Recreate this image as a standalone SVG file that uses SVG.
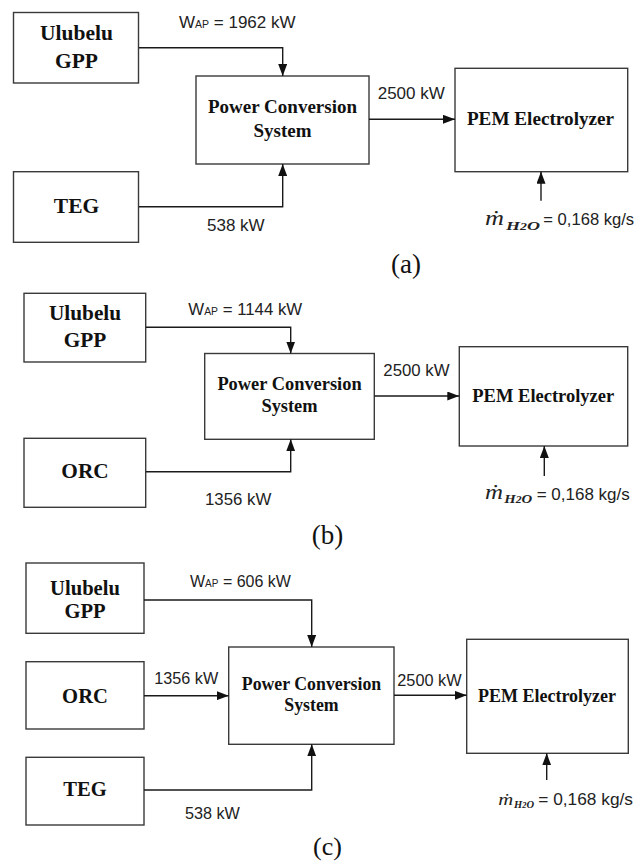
<svg xmlns="http://www.w3.org/2000/svg" width="635" height="863" viewBox="0 0 635 863">
<defs>
<marker id="arr" viewBox="0 0 12 9" refX="12" refY="4.5" markerWidth="12" markerHeight="9" markerUnits="userSpaceOnUse" orient="auto">
<path d="M0,0 L12,4.5 L0,9 z" fill="#111"/>
</marker>
<style>
.box{fill:#fff;stroke:#3a3a3a;stroke-width:1.4}
.conn{fill:none;stroke:#1a1a1a;stroke-width:1.4;marker-end:url(#arr)}
.node{font-family:"Liberation Serif","Times New Roman",serif;font-weight:bold;fill:#111;text-anchor:middle}
.lbl{font-family:"Liberation Sans",Arial,sans-serif;fill:#222}
.mi{font-family:"Liberation Serif","Times New Roman",serif;font-style:italic;fill:#222}
.sub{font-family:"Liberation Serif","Times New Roman",serif;font-style:italic;font-weight:bold;fill:#222}
.cap{font-family:"Liberation Serif","Times New Roman",serif;fill:#111;text-anchor:middle}
</style>
</defs>
<rect width="635" height="863" fill="#fff"/>

<!-- ===== Panel (a) ===== -->
<g id="a-ulubelu">
<rect class="box" x="13.5" y="12.5" width="125" height="70.5"/>
<text class="node" x="76.5" y="40" font-size="21.5">Ulubelu</text>
<text class="node" x="76.5" y="67.7" font-size="21.5">GPP</text>
</g>
<g id="a-teg">
<rect class="box" x="13.5" y="171.7" width="125" height="70.6"/>
<text class="node" x="76.5" y="213.3" font-size="21.5">TEG</text>
</g>
<g id="a-pcs">
<rect class="box" x="196" y="76" width="173" height="88"/>
<text class="node" x="282.5" y="113" font-size="19">Power Conversion</text>
<text class="node" x="282.5" y="137" font-size="19">System</text>
</g>
<g id="a-pem">
<rect class="box" x="455" y="68.3" width="172.7" height="103.4"/>
<text class="node" x="540.5" y="125" font-size="19.2">PEM Electrolyzer</text>
</g>
<g id="a-connectors">
<path class="conn" d="M139,47.7 H282.7 V76"/>
<path class="conn" d="M139,206.7 H282.7 V164"/>
<path class="conn" d="M369,119.3 H455"/>
<path class="conn" d="M541,200.7 V171.7"/>
</g>
<g id="a-labels">
<text class="lbl" x="179" y="28.3" font-size="17">W<tspan font-size="10.5">AP</tspan> = 1962 kW</text>
<text class="lbl" x="377.7" y="99.3" font-size="17">2500 kW</text>
<text class="lbl" x="207" y="230.7" font-size="17">538 kW</text>
<text class="mi" x="485" y="225" font-size="22" textLength="19" lengthAdjust="spacingAndGlyphs">ṁ</text>
<text class="sub" x="506" y="229.5" font-size="13" textLength="34" lengthAdjust="spacingAndGlyphs">H<tspan font-size="10">2</tspan>O</text>
<text class="lbl" x="543.3" y="225.3" font-size="16.6">= 0,168 kg/s</text>
<text class="cap" x="406" y="273" font-size="27">(a)</text>
</g>

<!-- ===== Panel (b) ===== -->
<g id="b-ulubelu">
<rect class="box" x="24" y="293.3" width="121.7" height="68.7"/>
<text class="node" x="85" y="320" font-size="21.3">Ulubelu</text>
<text class="node" x="85" y="346.7" font-size="21.3">GPP</text>
</g>
<g id="b-orc">
<rect class="box" x="24" y="438.3" width="121.7" height="69"/>
<text class="node" x="85" y="478.3" font-size="21.3">ORC</text>
</g>
<g id="b-pcs">
<rect class="box" x="204.7" y="353.5" width="169.6" height="85.8"/>
<text class="node" x="289.5" y="390" font-size="18.4">Power Conversion</text>
<text class="node" x="289.5" y="411.7" font-size="18.4">System</text>
</g>
<g id="b-pem">
<rect class="box" x="459.3" y="346.7" width="168.4" height="99.3"/>
<text class="node" x="543.3" y="401.7" font-size="18.5">PEM Electrolyzer</text>
</g>
<g id="b-connectors">
<path class="conn" d="M146,327.3 H290.7 V353.5"/>
<path class="conn" d="M146,471.7 H290.7 V439.3"/>
<path class="conn" d="M374.3,396 H459.3"/>
<path class="conn" d="M544.3,476 V446"/>
</g>
<g id="b-labels">
<text class="lbl" x="188.3" y="315" font-size="16.8">W<tspan font-size="10.4">AP</tspan> = 1144 kW</text>
<text class="lbl" x="383.3" y="376" font-size="16.8">2500 kW</text>
<text class="lbl" x="205" y="505" font-size="16.8">1356 kW</text>
<text class="mi" x="485" y="498.5" font-size="21" textLength="18" lengthAdjust="spacingAndGlyphs">ṁ</text>
<text class="sub" x="504.3" y="503.3" font-size="12" textLength="28" lengthAdjust="spacingAndGlyphs">H<tspan font-size="9.5">2</tspan>O</text>
<text class="lbl" x="536.7" y="499.5" font-size="17">= 0,168 kg/s</text>
<text class="cap" x="327.5" y="544" font-size="27">(b)</text>
</g>

<!-- ===== Panel (c) ===== -->
<g id="c-ulubelu">
<rect class="box" x="26" y="563" width="118" height="70.3"/>
<text class="node" x="85" y="595" font-size="20.6">Ulubelu</text>
<text class="node" x="85" y="618.3" font-size="20.6">GPP</text>
</g>
<g id="c-orc">
<rect class="box" x="26" y="661.7" width="118" height="67.3"/>
<text class="node" x="85" y="702.7" font-size="20.6">ORC</text>
</g>
<g id="c-teg">
<rect class="box" x="26" y="757.3" width="118" height="67.7"/>
<text class="node" x="85" y="796" font-size="20.6">TEG</text>
</g>
<g id="c-pcs">
<rect class="box" x="228.7" y="647" width="165.3" height="97.3"/>
<text class="node" x="311.5" y="690" font-size="17.8">Power Conversion</text>
<text class="node" x="311.5" y="711" font-size="17.8">System</text>
</g>
<g id="c-pem">
<rect class="box" x="466.7" y="639.3" width="161.6" height="114"/>
<text class="node" x="547" y="701.7" font-size="18">PEM Electrolyzer</text>
</g>
<g id="c-connectors">
<path class="conn" d="M144,600 H311.7 V647"/>
<path class="conn" d="M144,695.7 H228.7"/>
<path class="conn" d="M144,790 H311.7 V744.3"/>
<path class="conn" d="M394,695.3 H466.7"/>
<path class="conn" d="M546.7,780 V753.3"/>
</g>
<g id="c-labels">
<text class="lbl" x="190" y="586.7" font-size="16">W<tspan font-size="10">AP</tspan> = 606 kW</text>
<text class="lbl" x="154.3" y="684" font-size="16.2">1356 kW</text>
<text class="lbl" x="397.3" y="686" font-size="16.3">2500 kW</text>
<text class="lbl" x="185" y="819.3" font-size="16.2">538 kW</text>
<text class="mi" x="498.3" y="804.5" font-size="17" textLength="15" lengthAdjust="spacingAndGlyphs">ṁ</text>
<text class="sub" x="514" y="808" font-size="10" textLength="20" lengthAdjust="spacingAndGlyphs">H<tspan font-size="8">2</tspan>O</text>
<text class="lbl" x="538.3" y="805" font-size="17.3">= 0,168 kg/s</text>
<text class="cap" x="327.5" y="854.5" font-size="26">(c)</text>
</g>
</svg>
